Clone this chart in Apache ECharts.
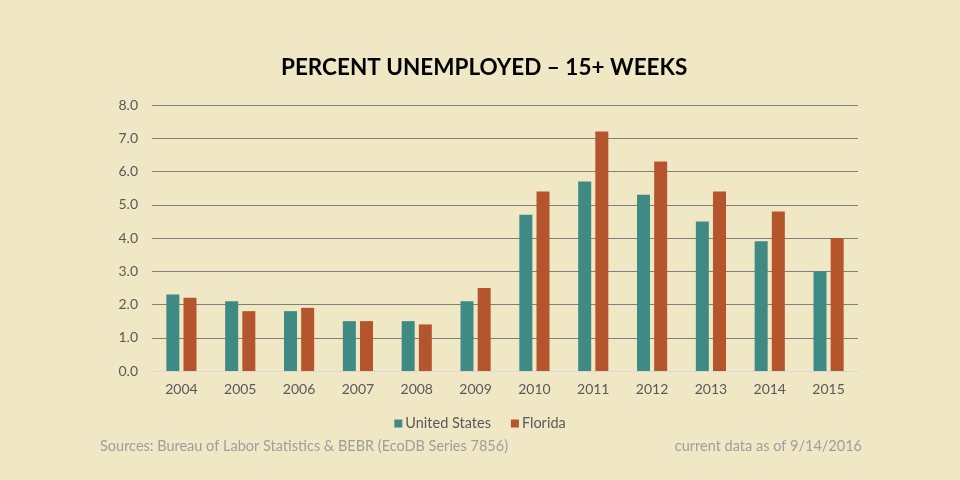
<!DOCTYPE html>
<html>
	<head>
		<meta charset="UTF-8">
		<title>Percent Unemployed 15+ Weeks</title>
		<style>
			html, body { margin: 0; padding: 0; background: #F0E7C5; }
			#chart { width: 960px; height: 480px; }
		</style>
	</head>
	<body>
		<div id="chart"></div>
		<script src="https://cdn.jsdelivr.net/npm/echarts@6/dist/echarts.min.js"></script>
		<script>
			// 数据
			var years = ['2004', '2005', '2006', '2007', '2008', '2009', '2010', '2011', '2012', '2013', '2014', '2015'];
			var usValues = [2.3, 2.1, 1.8, 1.5, 1.5, 2.1, 4.7, 5.7, 5.3, 4.5, 3.9, 3.0];
			var flValues = [2.2, 1.8, 1.9, 1.5, 1.4, 2.5, 5.4, 7.2, 6.3, 5.4, 4.8, 4.0];

			var chart = echarts.init(document.getElementById('chart'));
			var font = 'Lato, "Open Sans", sans-serif';

			var option = {
				backgroundColor: '#F0E7C5',
				animation: false,
				title: [{
					text: 'PERCENT UNEMPLOYED – 15+ WEEKS',
					left: 276,
					top: 51,
					textStyle: { fontFamily: font, fontSize: 22.5, fontWeight: 'bold', color: '#000' }
				}, {
					text: 'Sources: Bureau of Labor Statistics & BEBR (EcoDB Series 7856)',
					left: 95,
					top: 434,
					textStyle: { fontFamily: font, fontSize: 14.5, fontWeight: 'normal', color: '#9E9E9E' }
				}, {
					text: 'current data as of 9/14/2016',
					right: 93,
					top: 434,
					textStyle: { fontFamily: font, fontSize: 14.5, fontWeight: 'normal', color: '#9E9E9E' }
				}],
				legend: {
					data: ['United States', 'Florida'],
					top: 411,
					left: 'center',
					itemWidth: 8,
					itemHeight: 8,
					itemGap: 20,
					icon: 'rect',
					textStyle: { fontFamily: font, fontSize: 14.5, color: '#595959', padding: [0, 0, 0, -2] }
				},
				grid: { left: 152, right: 102, top: 105, bottom: 109 },
				xAxis: {
					type: 'category',
					data: years,
					axisLine: { lineStyle: { color: '#D9D9D9' } },
					axisTick: { show: false },
					axisLabel: { fontFamily: font, fontSize: 14, color: '#595959', margin: 11 }
				},
				yAxis: {
					type: 'value',
					min: 0,
					max: 8,
					interval: 1,
					axisLine: { show: false },
					axisTick: { show: false },
					axisLabel: {
						fontFamily: font, fontSize: 14, color: '#595959', margin: 14,
						formatter: function (v) { return v.toFixed(1); }
					},
					splitLine: { lineStyle: { color: '#7F7F7F', width: 1 } }
				},
				series: [{
					name: 'United States',
					type: 'bar',
					data: usValues,
					barWidth: 13,
					barGap: '32%',
					itemStyle: { color: '#3F8A84' }
				}, {
					name: 'Florida',
					type: 'bar',
					data: flValues,
					barWidth: 13,
					itemStyle: { color: '#B5552D' }
				}]
			};

			chart.setOption(option);
		</script>
	</body>
</html>
